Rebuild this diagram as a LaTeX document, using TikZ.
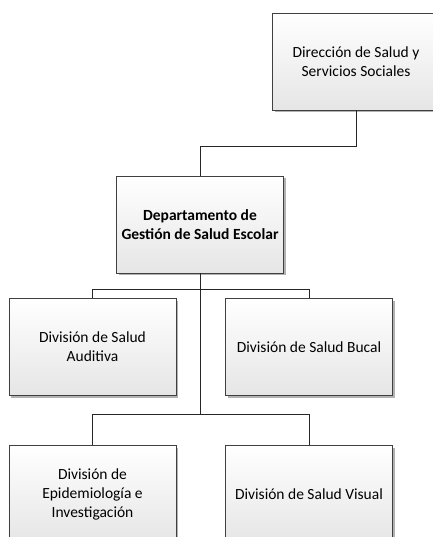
\documentclass[tikz,border=0pt]{standalone}
\usepackage{fontspec}
\setmainfont{Carlito}
\usetikzlibrary{shadows}
\begin{document}
\begin{tikzpicture}[x=1bp,y=-1bp,
  orgbox/.style={draw=black!75, line width=0.8bp, minimum width=167bp, minimum height=97bp,
    top color=white, bottom color=black!10, align=center, inner sep=0pt,
    font=\fontsize{15.5bp}{19bp}\selectfont,
    general shadow={fill=black!30, shadow xshift=2bp, shadow yshift=-2bp}},
  link/.style={draw=black!85, line width=0.9bp}]
\useasboundingbox (0,0) rectangle (433,537);
\clip (0,0) rectangle (433,537);
\node[orgbox] (top) at (356,61.5) {Dirección de Salud y\\Servicios Sociales};
\node[orgbox] (dept) at (200,224.5) {\bfseries Departamento de\\\bfseries Gestión de Salud Escolar};
\node[orgbox] (d1) at (92.5,347) {División de Salud\\Auditiva};
\node[orgbox] (d2) at (309,347) {División de Salud Bucal};
\node[orgbox] (d3) at (92.5,494) {División de\\Epidemiología e\\Investigación};
\node[orgbox] (d4) at (309,494) {División de Salud Visual};
\draw[link] (top.south) -- ++(0,36) -| (dept.north);
\draw[link] (d1.north) -- ++(0,-9) -| (d2.north);
\draw[link] (d3.north) -- ++(0,-31) coordinate (b3) -| (d4.north);
\draw[link] (dept.south) -- (dept.south |- b3);
\end{tikzpicture}
\end{document}
